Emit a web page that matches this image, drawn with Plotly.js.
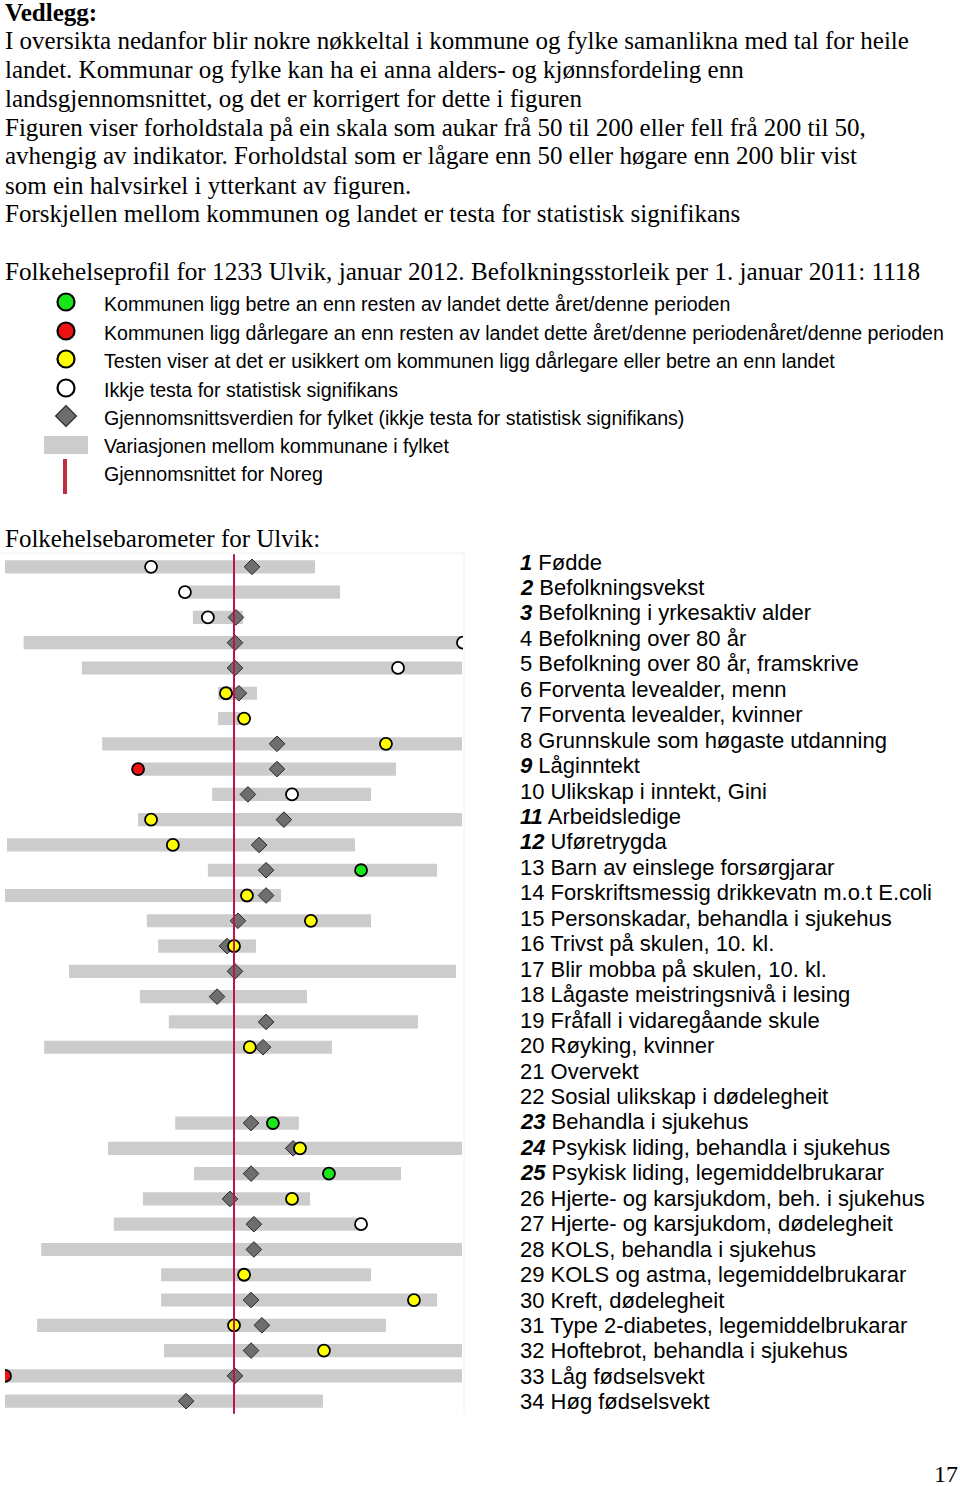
<!DOCTYPE html>
<html>
<head>
<meta charset="utf-8">
<script src="https://cdn.plot.ly/plotly-3.0.1.min.js"></script>
<style>html,body{margin:0;padding:0;background:#fff;}#chart{width:960px;height:1486px;}</style>
</head>
<body>
<div id="chart"></div>
<script>
// ---------------- DATA ----------------
const indicatorNo = [1,2,3,4,5,6,7,8,9,10,11,12,13,14,15,16,17,18,19,20,21,22,23,24,25,26,27,28,29,30,31,32,33,34];
const indicatorNames = [
  "Fødde","Befolkningsvekst","Befolkning i yrkesaktiv alder","Befolkning over 80 år",
  "Befolkning over 80 år, framskrive","Forventa levealder, menn","Forventa levealder, kvinner",
  "Grunnskule som høgaste utdanning","Låginntekt","Ulikskap i inntekt, Gini","Arbeidsledige",
  "Uføretrygda","Barn av einslege forsørgjarar","Forskriftsmessig drikkevatn m.o.t E.coli",
  "Personskadar, behandla i sjukehus","Trivst på skulen, 10. kl.","Blir mobba på skulen, 10. kl.",
  "Lågaste meistringsnivå i lesing","Fråfall i vidaregåande skule","Røyking, kvinner","Overvekt",
  "Sosial ulikskap i dødelegheit","Behandla i sjukehus","Psykisk liding, behandla i sjukehus",
  "Psykisk liding, legemiddelbrukarar","Hjerte- og karsjukdom, beh. i sjukehus",
  "Hjerte- og karsjukdom, dødelegheit","KOLS, behandla i sjukehus","KOLS og astma, legemiddelbrukarar",
  "Kreft, dødelegheit","Type 2-diabetes, legemiddelbrukarar","Hoftebrot, behandla i sjukehus",
  "Låg fødselsvekt","Høg fødselsvekt"
];
const boldItalicNumbers = [1,2,3,9,11,12,23,24,25];
// county variation (min / max ratio among municipalities in the county)
const countyMin = [50,87.0,88.3,52.9,63.1,95.3,95.3,67.1,74.8,93.6,74.8,50.3,92.4,50,76.8,79.5,60.7,75.2,82.1,56.3,null,null,83.7,68.3,88.6,75.9,69.5,55.8,80.2,80.2,55.1,80.9,50.3,50];
const countyMax = [127.8,137.8,102.7,200,199.4,107.2,101.8,199.4,163.3,151.4,199.4,144.2,184.9,115.3,151.4,106.9,195.8,124.7,174.5,134.5,null,null,121.7,199.4,165.8,125.9,146.4,199.4,151.4,184.9,158.4,199.4,199.4,130.9];
// county average
const countyAvg = [105.6,null,100.6,100.3,100.3,101.5,null,113.9,113.9,104.3,116.3,107.9,110.2,110.2,101.2,97.9,100.3,95.0,110.2,109.2,null,null,105.3,119.6,105.3,98.8,106.2,106.2,null,105.3,108.8,105.3,100.3,86.5];
// Ulvik municipality (values beyond 50/200 shown at the edge)
const ulvik = [77.8,86.2,92.4,200,164.3,97.6,103.1,158.4,74.8,119.2,77.8,83.1,146.9,104.0,126.2,100,null,null,null,104.9,null,null,112.5,122.1,133.3,119.2,146.9,null,103.1,172.4,100,131.3,50,null];
// significance test result
const ulvikStatus = ["ikkje","ikkje","ikkje","ikkje","ikkje","usikker","usikker","usikker","darlegare","ikkje","usikker","usikker","betre","usikker","usikker","usikker",null,null,null,"usikker",null,null,"betre","usikker","betre","usikker","ikkje",null,"usikker","usikker","usikker","usikker","darlegare",null];
const norwayAverage = 100;

// ---------------- TEXTS ----------------
const introLines = [
  "I oversikta nedanfor blir nokre nøkkeltal i kommune og fylke samanlikna med tal for heile",
  "landet. Kommunar og fylke kan ha ei anna alders- og kjønnsfordeling enn",
  "landsgjennomsnittet, og det er korrigert for dette i figuren",
  "Figuren viser forholdstala på ein skala som aukar frå 50 til 200 eller fell frå 200 til 50,",
  "avhengig av indikator. Forholdstal som er lågare enn 50 eller høgare enn 200 blir vist",
  "som ein halvsirkel i ytterkant av figuren.",
  "Forskjellen mellom kommunen og landet er testa for statistisk signifikans"
];
const legendTexts = [
  "Kommunen ligg betre an enn resten av landet dette året/denne perioden",
  "Kommunen ligg dårlegare an enn resten av landet dette året/denne periodenåret/denne perioden",
  "Testen viser at det er usikkert om kommunen ligg dårlegare eller betre an enn landet",
  "Ikkje testa for statistisk signifikans",
  "Gjennomsnittsverdien for fylket (ikkje testa for statistisk signifikans)",
  "Variasjonen mellom kommunane i fylket",
  "Gjennomsnittet for Noreg"
];

// ---------------- STYLE ----------------
const W = 960, H = 1486;
const statusColor = {betre:"#19e619", darlegare:"#ee1111", usikker:"#ffff00", ikkje:"#ffffff"};
const serif = "Liberation Serif, Times New Roman, serif";
const sans = "Liberation Sans, Arial, sans-serif";
const px = x => x / W;
const py = y => 1 - y / H;

const traces = [];
// variation bars
const barIdx = indicatorNo.filter((n,i)=>countyMin[i]!==null);
traces.push({
  type:"bar", orientation:"h",
  y: barIdx,
  base: barIdx.map(n=>countyMin[n-1]),
  x: barIdx.map(n=>countyMax[n-1]-countyMin[n-1]),
  width: 0.52,
  marker:{color:"#cccccc", line:{width:0}},
  hoverinfo:"skip", xaxis:"x", yaxis:"y"
});
// county average diamonds
const dIdx = indicatorNo.filter((n,i)=>countyAvg[i]!==null);
traces.push({
  type:"scatter", mode:"markers",
  x: dIdx.map(n=>countyAvg[n-1]), y: dIdx,
  marker:{symbol:"diamond", size:12, color:"#6e6e6e", line:{color:"#2a2a2a", width:1}},
  hoverinfo:"skip", xaxis:"x", yaxis:"y"
});
// municipality circles
const cIdx = indicatorNo.filter((n,i)=>ulvik[i]!==null);
traces.push({
  type:"scatter", mode:"markers",
  x: cIdx.map(n=>ulvik[n-1]), y: cIdx,
  marker:{symbol:"circle", size:12, color:cIdx.map(n=>statusColor[ulvikStatus[n-1]]), line:{color:"#000", width:1.8}},
  hoverinfo:"skip", xaxis:"x", yaxis:"y", cliponaxis:true
});
// Norway average line
traces.push({
  type:"scatter", mode:"lines",
  x:[norwayAverage, norwayAverage], y:[0.45, 34.9],
  line:{color:"#c0134a", width:2},
  hoverinfo:"skip", xaxis:"x", yaxis:"y", cliponaxis:false
});

// legend symbols (in page pixel coordinates on an auxiliary axis)
const legendY = [302,331,359,388,416,444,472];
const legendStatus = ["betre","darlegare","usikker","ikkje"];
traces.push({
  type:"scatter", mode:"markers",
  x: legendStatus.map(()=>66), y: legendY.slice(0,4),
  marker:{symbol:"circle", size:17, color:legendStatus.map(s=>statusColor[s]), line:{color:"#000", width:2.2}},
  hoverinfo:"skip", xaxis:"x2", yaxis:"y2", cliponaxis:false
});
traces.push({
  type:"scatter", mode:"markers",
  x:[66], y:[legendY[4]],
  marker:{symbol:"diamond", size:16, color:"#6e6e6e", line:{color:"#2a2a2a", width:1.2}},
  hoverinfo:"skip", xaxis:"x2", yaxis:"y2", cliponaxis:false
});

const annotations = [];
function txt(text, x, y, size, font, opts) {
  annotations.push(Object.assign({
    text:text, x:px(x), y:py(y), xref:"paper", yref:"paper",
    xanchor:"left", yanchor:"middle", showarrow:false,
    font:{family:font, size:size, color:"#000"}
  }, opts||{}));
}
txt("<b>Vedlegg:</b>", 3, 12, 25, serif);
introLines.forEach((t,i)=>txt(t, 3, 40 + i*29, 25, serif));
txt("Folkehelseprofil for 1233 Ulvik, januar 2012. Befolkningsstorleik per 1. januar 2011: 1118", 3, 272, 25.2, serif);
legendTexts.forEach((t,i)=>txt(t, 102, legendY[i]+2, 19.6, sans));
txt("Folkehelsebarometer for Ulvik:", 3, 538, 25, serif);
indicatorNo.forEach((n,i)=>{
  const num = boldItalicNumbers.includes(n) ? "<b><i>"+n+"</i></b>" : String(n);
  txt(num+" "+indicatorNames[i], 518, 562 + i*25.45, 22, sans);
});
txt("17", 932, 1474, 24, serif);

const shapes = [
  // legend: variation bar sample
  {type:"rect", xref:"paper", yref:"paper", x0:px(44), x1:px(88), y0:py(436), y1:py(454), fillcolor:"#cccccc", line:{width:0}},
  // legend: national average sample
  {type:"line", xref:"paper", yref:"paper", x0:px(65), x1:px(65), y0:py(459), y1:py(494), line:{color:"#c0303f", width:4}},
  // faint frame of the barometer picture
  {type:"line", xref:"paper", yref:"paper", x0:px(0), x1:px(464), y0:py(553), y1:py(553), line:{color:"#eef0f2", width:1}},
  {type:"line", xref:"paper", yref:"paper", x0:px(464), x1:px(464), y0:py(553), y1:py(1412), line:{color:"#eef0f2", width:1}}
];

const layout = {
  width:W, height:H, margin:{l:0,r:0,t:0,b:0},
  paper_bgcolor:"#ffffff", plot_bgcolor:"rgba(0,0,0,0)",
  showlegend:false, barmode:"overlay",
  xaxis:{type:"log", domain:[px(5), px(463)], range:[Math.log10(50), Math.log10(200)],
         showgrid:false, zeroline:false, showticklabels:false, ticks:"", showline:false, fixedrange:true},
  yaxis:{domain:[py(1413.8), py(554.2)], range:[34.5, 0.5], showgrid:false, zeroline:false,
         showticklabels:false, ticks:"", showline:false, fixedrange:true},
  xaxis2:{domain:[0,1], range:[0,W], anchor:"y2", visible:false, fixedrange:true},
  yaxis2:{domain:[0,1], range:[H,0], anchor:"x2", visible:false, fixedrange:true},
  annotations:annotations, shapes:shapes
};

Plotly.newPlot("chart", traces, layout, {staticPlot:true, displayModeBar:false});
</script>
</body>
</html>
